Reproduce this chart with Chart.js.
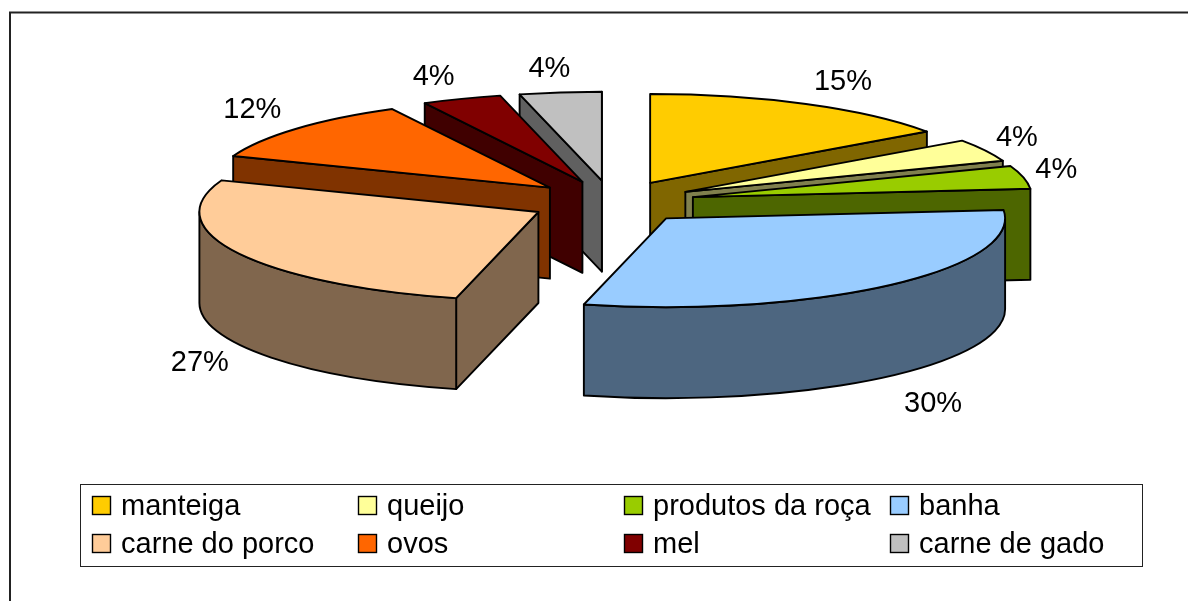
<!DOCTYPE html>
<html><head><meta charset="utf-8">
<style>html,body{margin:0;padding:0;background:#fff;overflow:hidden}#wrap{width:1188px;height:601px;position:relative}</style>
<script src="https://cdn.jsdelivr.net/npm/chart.js@4"></script>
</head><body><div id="wrap"><canvas id="c" width="1188" height="601"></canvas></div>
<script>
const categories = ['manteiga','queijo','produtos da roça','banha','carne do porco','ovos','mel','carne de gado'];
const values = [15.2,4.1,4.2,30.4,26.9,11.5,3.8,3.9];
const topColors = ['#FFCC00','#FFFF99','#99CC00','#99CCFF','#FFCC99','#FF6600','#800000','#C0C0C0'];
const sideColors = ['#806600','#80804D','#4D6600','#4D6680','#80664D','#803300','#400000','#606060'];
const labelNudges = [[37,-22],[32,-12],[33,-7],[46,118],[-38,110],[-44,-19],[-28,-22],[-11,-23]];

const CX=612, CY=202, KY=0.262, RADIUS=339, EXPLODE=83, DEPTH=91;
const FONT='29px "Liberation Sans", Arial, sans-serif';
const paintOrder=[0,1,2,3,7,6,5,4];

function geom(el){
  const mid=(el.startAngle+el.endAngle)/2;
  return {mid, ax:CX+EXPLODE*Math.cos(mid), ay:CY+EXPLODE*0.26*Math.sin(mid), r:el.outerRadius};
}
function rim(g,a,d){return [g.ax+g.r*Math.cos(a), g.ay+g.r*KY*Math.sin(a)+(d||0)];}
function stroke(ctx){ctx.lineWidth=1.9;ctx.strokeStyle='#000';ctx.lineJoin='round';ctx.stroke();}

function drawFace(ctx,g,a,color){
  const p=rim(g,a);
  ctx.beginPath();ctx.moveTo(g.ax,g.ay);ctx.lineTo(p[0],p[1]);ctx.lineTo(p[0],p[1]+DEPTH);ctx.lineTo(g.ax,g.ay+DEPTH);ctx.closePath();
  ctx.fillStyle=color;ctx.fill();stroke(ctx);
}
function drawRim(ctx,g,s,e,color){
  const lo=Math.max(s,0), hi=Math.min(e,Math.PI);
  if(hi>lo){
    ctx.beginPath();
    ctx.ellipse(g.ax,g.ay,g.r,g.r*KY,0,lo,hi,false);
    ctx.ellipse(g.ax,g.ay+DEPTH,g.r,g.r*KY,0,hi,lo,true);
    ctx.closePath();ctx.fillStyle=color;ctx.fill();stroke(ctx);
  }
}
const pie3d={
  id:'pie3d',
  beforeDraw(chart){
    const ctx=chart.ctx;
    ctx.save();ctx.fillStyle='#fff';ctx.fillRect(0,0,1188,601);
    ctx.strokeStyle='#222';ctx.lineWidth=2;
    ctx.beginPath();ctx.moveTo(10,601);ctx.lineTo(10,12.5);ctx.lineTo(1188,12.5);ctx.stroke();
    ctx.restore();
  },
  beforeDatasetDraw(chart){
    const ctx=chart.ctx, meta=chart.getDatasetMeta(0);
    paintOrder.forEach(i=>{
      const el=meta.data[i], g=geom(el), s=el.startAngle, e=el.endAngle;
      ctx.save();
      if(Math.cos(e)>0) drawFace(ctx,g,e,sideColors[i]);
      if(Math.cos(s)<0) drawFace(ctx,g,s,sideColors[i]);
      drawRim(ctx,g,s,e,sideColors[i]);
      ctx.restore();
    });
    paintOrder.forEach(i=>{
      const el=meta.data[i], g=geom(el);
      ctx.save();
      ctx.translate(g.ax,g.ay);ctx.scale(1,KY);ctx.translate(-el.x,-el.y);
      el.draw(ctx);
      ctx.restore();
      ctx.save();
      ctx.beginPath();ctx.moveTo(g.ax,g.ay);
      ctx.ellipse(g.ax,g.ay,g.r,g.r*KY,0,el.startAngle,el.endAngle,false);
      ctx.closePath();stroke(ctx);
      ctx.restore();
    });
    return false;
  },
  afterDatasetsDraw(chart){
    const ctx=chart.ctx, meta=chart.getDatasetMeta(0);
    ctx.save();
    ctx.font=FONT;ctx.fillStyle='#000';ctx.textAlign='center';ctx.textBaseline='middle';
    meta.data.forEach((el,i)=>{
      const g=geom(el), p=rim(g,g.mid);
      ctx.fillText(Math.round(values[i])+'%',p[0]+labelNudges[i][0],p[1]+labelNudges[i][1]);
    });
    ctx.strokeStyle='#222';ctx.lineWidth=1;
    ctx.strokeRect(80.5,484.5,1062,82);
    const colX=[92,358,624,890], rowY=[496,534];
    ctx.textAlign='left';
    categories.forEach((name,i)=>{
      const x=colX[i%4], y=rowY[Math.floor(i/4)];
      ctx.fillStyle=topColors[i];ctx.fillRect(x,y,18,18);
      ctx.strokeStyle='#000';ctx.lineWidth=1.4;ctx.strokeRect(x+.5,y+.5,18,18);
      ctx.fillStyle='#000';
      ctx.fillText(name,x+29,y+11);
    });
    ctx.restore();
  }
};
new Chart(document.getElementById('c'),{
  type:'pie',
  data:{labels:categories,datasets:[{data:values,backgroundColor:topColors,borderWidth:0,clip:false}]},
  options:{responsive:false,animation:false,radius:RADIUS,events:[],
    layout:{padding:0},
    plugins:{legend:{display:false},tooltip:{enabled:false},title:{display:false}}},
  plugins:[pie3d]
});
</script></body></html>
